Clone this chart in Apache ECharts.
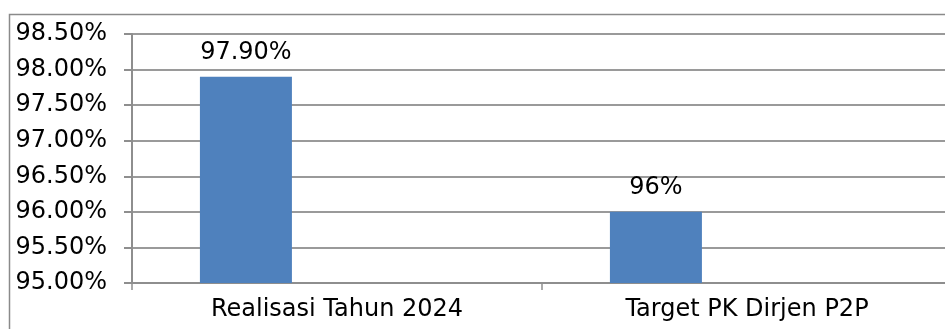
<!DOCTYPE html>
<html>
<head>
<meta charset="utf-8">
<script src="https://cdn.jsdelivr.net/npm/echarts@6/dist/echarts.min.js"></script>
<style>
  html, body { margin: 0; padding: 0; background: #fff; }
  #chart { width: 945px; height: 329px; }
</style>
</head>
<body>
<div id="chart"></div>
<script>
// data
var categories = ["Realisasi Tahun 2024", "Target PK Dirjen P2P"];
var values = [97.9, 96.0];
var valueLabels = ["97.90%", "96%"];
var emptySeries = [null, null]; // empty second series, keeps the bars off-centre like the original

var yMin = 95, yMax = 98.5, yStep = 0.5;

var chartDom = document.getElementById("chart");
var myChart = echarts.init(chartDom);
var font = "DejaVu Sans";

var option = {
  animation: false,
  backgroundColor: "#fff",
  // outer frame
  graphic: [
    {
      type: "rect",
      shape: { x: 9.5, y: 14.5, width: 960, height: 340 },
      style: { fill: "none", stroke: "#8a8a8a", lineWidth: 1.5 },
      z: 100
    }
  ],
  grid: {
    left: 132,
    width: 820,
    top: 34,
    bottom: 46,
    containLabel: false,
    outerBoundsMode: "none"
  },
  xAxis: {
    type: "category",
    data: categories,
    axisLine: { lineStyle: { color: "#8e8e8e", width: 2 } },
    axisTick: { show: true, length: 7, lineStyle: { color: "#8e8e8e", width: 1.5 } },
    axisLabel: { color: "#000", fontFamily: font, fontSize: 24, margin: 15 }
  },
  yAxis: {
    type: "value",
    min: yMin,
    max: yMax,
    interval: yStep,
    axisLine: { show: true, lineStyle: { color: "#8e8e8e", width: 2 } },
    axisTick: { show: true, length: 8, lineStyle: { color: "#8e8e8e", width: 2 } },
    splitLine: { lineStyle: { color: "#9a9a9a", width: 2 } },
    axisLabel: {
      color: "#000",
      fontFamily: font,
      fontSize: 24,
      margin: 25,
      formatter: function (v) { return v.toFixed(2) + "%"; }
    }
  },
  series: [
    {
      type: "bar",
      data: values,
      barWidth: 92,
      barGap: "98%",
      itemStyle: { color: "#4f81bd" },
      label: {
        show: true,
        position: "top",
        distance: 12,
        color: "#000",
        fontFamily: font,
        fontSize: 24,
        formatter: function (p) { return valueLabels[p.dataIndex]; }
      }
    },
    {
      type: "bar",
      data: emptySeries,
      barWidth: 92,
      itemStyle: { color: "#c0504d" }
    }
  ]
};

option && myChart.setOption(option);
</script>
</body>
</html>
